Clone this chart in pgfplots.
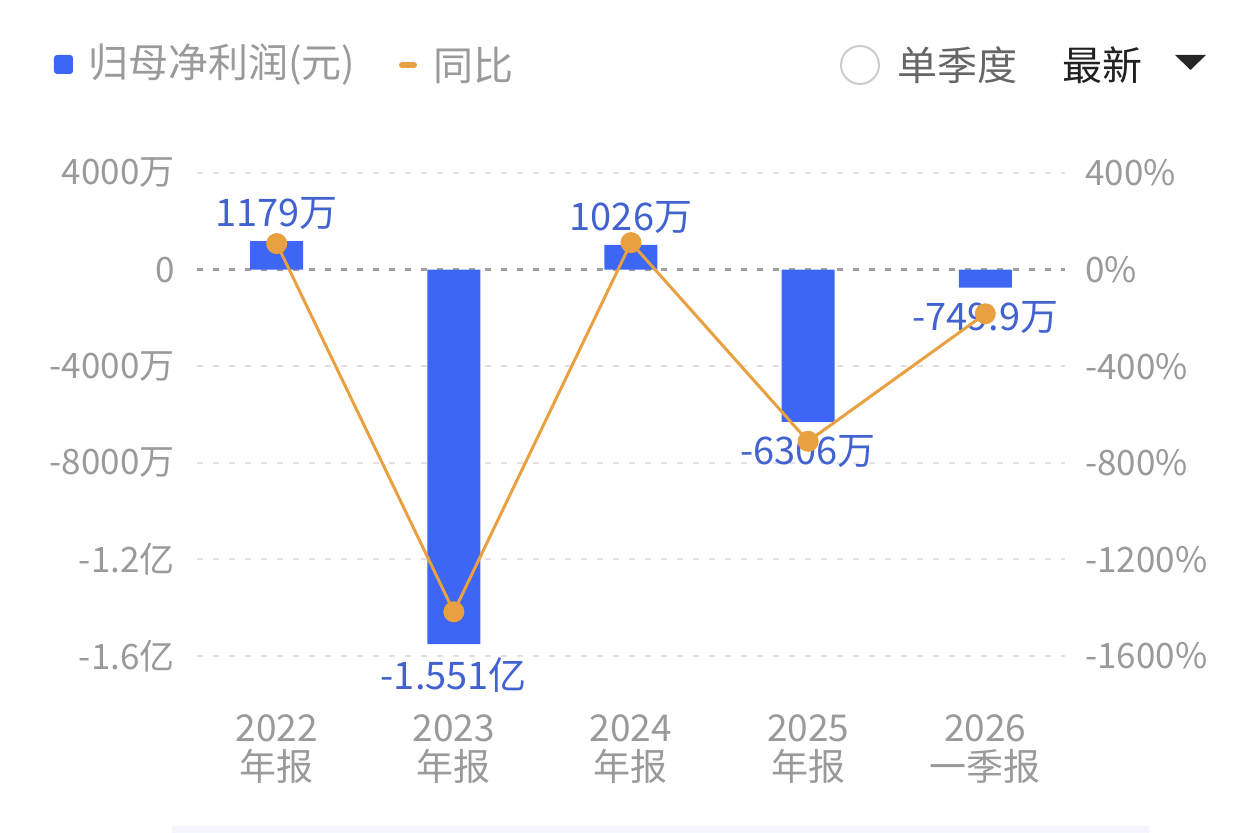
\documentclass[border=0pt]{standalone}
\usepackage{pgfplots}
\pgfplotsset{compat=1.18}
\usepackage{fontspec}
\setmainfont{Noto Sans CJK SC}
\definecolor{barblue}{HTML}{3D66F5}
\definecolor{lblblue}{HTML}{4262CF}
\definecolor{lineorange}{HTML}{E8A040}
\definecolor{tickgray}{HTML}{9A9A9A}
\definecolor{gridgray}{HTML}{E2E2E2}
\definecolor{zerogray}{HTML}{A0A0A0}
\begin{document}
\begin{tikzpicture}
\path[use as bounding box] (-98.5pt,-88.5pt) rectangle (531.5pt,328pt);
% header
\fill[barblue, rounded corners=1.5pt] (-71.5pt,291pt) rectangle (-62pt,300.5pt);
\node[anchor=west, inner sep=0pt, text=tickgray, font=\fontsize{20}{22}\selectfont] at (-54.5pt,295.5pt) {归母净利润(元)};
\draw[lineorange, line width=3pt, line cap=round] (102.5pt,295.5pt) -- (108.5pt,295.5pt);
\node[anchor=west, inner sep=0pt, text=tickgray, font=\fontsize{20}{22}\selectfont] at (118pt,295.5pt) {同比};
\draw[black!20, line width=1pt] (331.5pt,295.5pt) circle (9.5pt);
\node[anchor=west, inner sep=0pt, text=black!60, font=\fontsize{20}{22}\selectfont] at (350pt,295.5pt) {单季度};
\node[anchor=west, inner sep=0pt, text=black!87, font=\fontsize{20}{22}\selectfont] at (432.5pt,295.5pt) {最新};
\fill[black!85] (489pt,300.5pt) -- (504.5pt,300.5pt) -- (496.75pt,293pt) -- cycle;
\fill[blue!4] (-12.5pt,-88.5pt) rectangle (476pt,-85pt);
% bars
\begin{axis}[
  at={(0,0)}, anchor=south west,
  scale only axis, width=434pt, height=241.5pt,
  xmin=-0.45, xmax=4.45, ymin=-16000, ymax=4000,
  axis lines=none,
  clip=false,
  scaled y ticks=false,
  ytick={4000,0,-4000,-8000,-12000,-16000},
  yticklabels={4000万,0,-4000万,-8000万,-1.2亿,-1.6亿},
  xtick={0,1,2,3,4},
  xticklabels={2022\\年报,2023\\年报,2024\\年报,2025\\年报,2026\\一季报},
  major tick length=0pt,
  /pgf/number format/assume math mode=true,
  yticklabel style={text=tickgray, font=\fontsize{17.5}{19}\selectfont, inner sep=0pt, anchor=east, xshift=-11pt},
  xticklabel style={text=tickgray, font=\fontsize{18.5}{19.5}\selectfont, align=center, inner sep=0pt, anchor=north, yshift=-29pt},
  hide x axis=false, hide y axis=false,
  axis line style={draw=none},
  ymajorgrids, grid style={gridgray, line width=1pt, dash pattern=on 3pt off 5pt},
  extra y ticks={0}, extra y tick labels={},
  extra y tick style={grid style={zerogray, line width=1.4pt, dash pattern=on 3pt off 5pt}},
]
\addplot[ybar, bar width=26.5pt, bar shift=0pt, fill=barblue, draw=none,
  nodes near coords, point meta=explicit symbolic,
  every node near coord/.append style={text=lblblue, font=\fontsize{19}{20}\selectfont, inner sep=5.5pt, anchor=south}]
  table[meta=label] {
x y label
0 1179 1179万
2 1026 1026万
};
\addplot[ybar, bar width=26.5pt, bar shift=0pt, fill=barblue, draw=none,
  nodes near coords, point meta=explicit symbolic,
  every node near coord/.append style={text=lblblue, font=\fontsize{19}{20}\selectfont, inner sep=6.5pt, anchor=north}]
  table[meta=label] {
x y label
1 -15510 -1.551亿
3 -6306 -6306万
4 -749.9 -749.9万
};
\end{axis}
% line
\begin{axis}[
  at={(0,0)}, anchor=south west,
  scale only axis, width=434pt, height=241.5pt,
  xmin=-0.45, xmax=4.45, ymin=-1600, ymax=400,
  axis lines=none, hide y axis=false, axis line style={draw=none},
  clip=false,
  axis y line*=right,
  xtick=\empty,
  ytick={400,0,-400,-800,-1200,-1600},
  yticklabels={400\%,0\%,-400\%,-800\%,-1200\%,-1600\%},
  major tick length=0pt,
  /pgf/number format/assume math mode=true,
  yticklabel style={text=tickgray, font=\fontsize{17.5}{19}\selectfont, inner sep=0pt, anchor=west, xshift=10pt},
]
\addplot[lineorange, line width=1.5pt, mark=*, mark size=4.5pt, mark options={fill=lineorange, draw=none}]
  coordinates {(0,107.5) (1,-1417) (2,111.7) (3,-711) (4,-183)};
\end{axis}
\end{tikzpicture}
\end{document}
